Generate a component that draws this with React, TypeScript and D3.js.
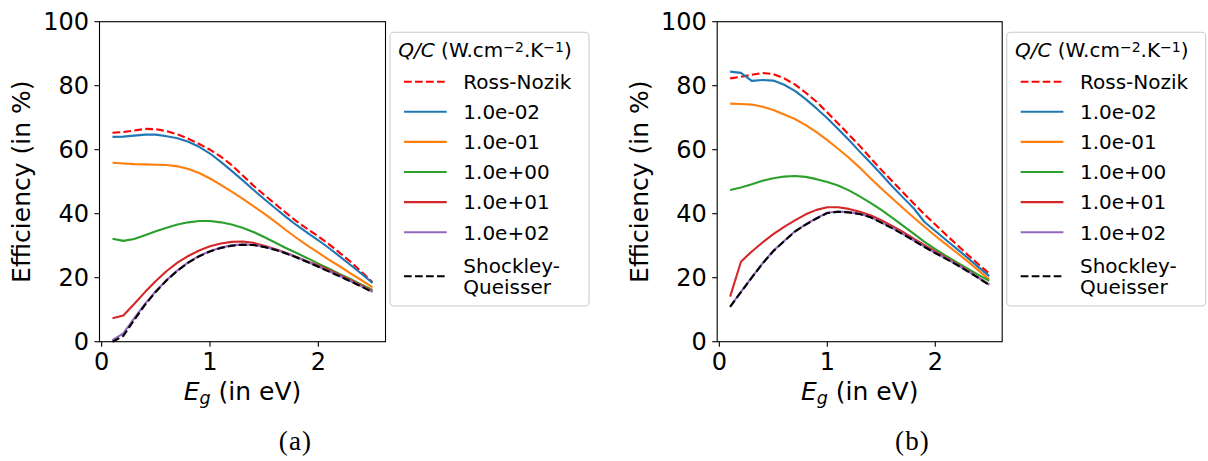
import React from 'react';
import * as d3 from 'd3';

// ---------- data ----------
const energyEv = [0.1, 0.2, 0.3, 0.4, 0.5, 0.6, 0.7, 0.8, 0.9, 1.0, 1.1, 1.2, 1.3, 1.4, 1.5, 1.6, 1.7, 1.8, 1.9, 2.0, 2.1, 2.2, 2.3, 2.4, 2.5];
const yTicks = [0, 20, 40, 60, 80, 100];
const xTicks = [0, 1, 2];
const seriesLabels = ['Ross-Nozik', '1.0e-02', '1.0e-01', '1.0e+00', '1.0e+01', '1.0e+02', 'Shockley-Queisser'];
const panelCaptions = ['(a)', '(b)'];

// panel (a)
const aRossNozik = [65.3, 65.5, 66.0, 66.5, 66.4, 65.8, 64.8, 63.4, 61.8, 60.0, 57.8, 55.2, 52.0, 48.8, 45.9, 43.1, 40.3, 37.6, 35.2, 32.9, 30.4, 27.7, 24.9, 21.8, 18.6];
const aQc1em2 = [64.0, 64.1, 64.4, 64.7, 64.7, 64.2, 63.6, 62.5, 60.9, 58.8, 56.2, 53.4, 50.5, 47.5, 44.6, 41.8, 39.0, 36.4, 34.0, 31.7, 29.2, 26.6, 23.9, 21.2, 18.4];
const aQc1em1 = [55.9, 55.7, 55.5, 55.4, 55.3, 55.2, 54.8, 54.0, 52.7, 51.0, 49.0, 46.9, 44.7, 42.4, 40.0, 37.5, 34.9, 32.4, 30.0, 27.8, 25.6, 23.5, 21.3, 19.2, 17.0];
const aQc1e0 = [32.2, 31.5, 32.1, 33.3, 34.5, 35.6, 36.6, 37.3, 37.7, 37.7, 37.3, 36.6, 35.6, 34.3, 32.7, 31.0, 29.3, 27.7, 26.1, 24.4, 22.8, 21.1, 19.5, 17.8, 16.2];
const aQc1e1 = [7.3, 8.2, 11.8, 15.5, 19.0, 22.1, 24.7, 26.8, 28.5, 29.8, 30.7, 31.2, 31.3, 30.9, 30.0, 29.0, 27.8, 26.5, 25.1, 23.8, 22.4, 20.8, 19.2, 17.5, 15.8];
const aQc1e2 = [0.5, 2.6, 7.3, 11.8, 15.8, 19.3, 22.3, 24.8, 26.8, 28.3, 29.4, 30.1, 30.4, 30.3, 29.7, 28.8, 27.7, 26.4, 25.0, 23.5, 22.0, 20.5, 18.9, 17.3, 15.6];
const aShockley = [0.0, 1.8, 6.8, 11.5, 15.6, 19.2, 22.2, 24.7, 26.7, 28.2, 29.3, 30.0, 30.3, 30.2, 29.6, 28.7, 27.6, 26.3, 24.9, 23.4, 21.9, 20.4, 18.8, 17.2, 15.5];

// panel (b)
const bRossNozik = [82.3, 82.8, 83.4, 84.0, 83.6, 82.3, 80.4, 77.8, 75.0, 71.6, 68.2, 64.7, 61.2, 57.4, 53.7, 50.2, 46.7, 43.2, 39.8, 36.6, 33.4, 30.3, 27.2, 24.2, 21.3];
const bQc1em2 = [84.4, 84.0, 81.5, 81.8, 81.6, 80.3, 78.4, 75.8, 72.9, 69.8, 66.5, 63.0, 59.4, 55.9, 52.3, 48.6, 45.1, 41.7, 37.4, 34.6, 31.8, 29.0, 26.2, 23.3, 20.5];
const bQc1em1 = [74.4, 74.3, 74.1, 73.4, 72.4, 71.0, 69.6, 67.7, 65.5, 63.0, 60.3, 57.5, 54.4, 51.1, 47.9, 44.8, 41.8, 38.8, 35.9, 33.1, 30.4, 27.8, 25.1, 22.3, 19.4];
const bQc1e0 = [47.4, 48.2, 49.2, 50.3, 51.1, 51.6, 51.8, 51.5, 50.8, 49.9, 48.8, 47.3, 45.4, 43.4, 41.2, 38.8, 36.3, 33.8, 31.2, 28.9, 26.8, 24.8, 22.8, 20.9, 19.0];
const bQc1e1 = [14.1, 25.0, 28.2, 31.0, 33.6, 35.9, 37.9, 39.8, 41.2, 42.0, 42.0, 41.5, 40.6, 39.5, 38.0, 36.2, 34.3, 32.2, 30.2, 28.2, 26.3, 24.3, 22.2, 20.0, 17.8];
const bQc1e2 = [11.0, 15.6, 20.1, 24.5, 28.4, 31.5, 34.5, 36.7, 38.6, 40.3, 40.7, 40.5, 40.0, 39.0, 37.3, 35.6, 33.7, 31.7, 29.7, 27.8, 26.0, 24.1, 22.1, 20.0, 17.8];
const bShockley = [10.9, 15.5, 20.0, 24.4, 28.3, 31.4, 34.4, 36.6, 38.5, 40.2, 40.6, 40.4, 39.9, 38.9, 37.2, 35.5, 33.6, 31.6, 29.6, 27.7, 25.9, 24.0, 22.0, 19.9, 17.7];

// ---------- styles ----------
const seriesStyles = [
  { color: '#ff0000', dash: '7.7,3.3' },
  { color: '#1f77b4', dash: null },
  { color: '#ff7f0e', dash: null },
  { color: '#2ca02c', dash: null },
  { color: '#d62728', dash: null },
  { color: '#9467bd', dash: null },
  { color: '#000000', dash: '7.7,3.3' },
];

const FONT = 'DejaVu Sans';
const TOP = 21.7;
const BOTTOM = 341.7;

type PanelProps = { x0: number; width: number; series: number[][]; caption: string; captionX: number };

function Panel({ x0, width, series, caption, captionX }: PanelProps) {
  const xs = d3.scaleLinear().domain([-0.02, 2.62]).range([x0, x0 + width]);
  const ys = d3.scaleLinear().domain([0, 100]).range([BOTTOM, TOP]);
  const line = d3
    .line<number>()
    .x((_, i) => xs(energyEv[i]))
    .y((d) => ys(d));
  const legX = x0 + width + 4.5;
  const legW = 199;
  const rowY = (i: number) => 81.7 + i * 30.1;
  return (
    <g>
      {series.map((vals, k) => (
        <path
          key={k}
          d={line(vals) || ''}
          fill="none"
          stroke={seriesStyles[k].color}
          strokeWidth={2.1}
          strokeDasharray={seriesStyles[k].dash || undefined}
          strokeLinejoin="round"
        />
      ))}
      <rect x={x0} y={TOP} width={width} height={BOTTOM - TOP} fill="none" stroke="#000" strokeWidth={1.1} />
      {yTicks.map((t) => (
        <g key={'y' + t}>
          <line x1={x0 - 5} x2={x0} y1={ys(t)} y2={ys(t)} stroke="#000" strokeWidth={1.1} />
          <text x={x0 - 10.5} y={ys(t) + 8.7} textAnchor="end" fontSize={24} fontFamily={FONT} fill="#000">
            {t}
          </text>
        </g>
      ))}
      {xTicks.map((t) => (
        <g key={'x' + t}>
          <line x1={xs(t)} x2={xs(t)} y1={BOTTOM} y2={BOTTOM + 5} stroke="#000" strokeWidth={1.1} />
          <text x={xs(t)} y={369.5} textAnchor="middle" fontSize={24} fontFamily={FONT} fill="#000">
            {t}
          </text>
        </g>
      ))}
      <text
        transform={`translate(${x0 - 69.5},${(TOP + BOTTOM) / 2}) rotate(-90)`}
        textAnchor="middle"
        fontSize={25}
        fontFamily={FONT}
        fill="#000"
      >
        Efficiency (in %)
      </text>
      <text x={x0 + width / 2} y={400} textAnchor="middle" fontSize={25} fontFamily={FONT} fill="#000" style={{ whiteSpace: 'pre' }}>
        <tspan fontStyle="italic">E</tspan>
        <tspan fontStyle="italic" fontSize={17.5} dy={4}>g</tspan>
        <tspan dy={-4}> (in eV)</tspan>
      </text>
      <rect x={legX} y={32.3} width={legW} height={273.7} rx={4} fill="#fff" fillOpacity={0.8} stroke="#cccccc" strokeWidth={1.1} />
      <text x={legX + 8.3} y={57.3} fontSize={20} fontFamily={FONT} fill="#000" style={{ whiteSpace: 'pre' }}>
        <tspan fontStyle="italic">Q/C</tspan>
        <tspan> (W.cm</tspan>
        <tspan fontSize={14} dy={-5.5}>−2</tspan>
        <tspan dy={5.5}>.K</tspan>
        <tspan fontSize={14} dy={-5.5}>−1</tspan>
        <tspan dy={5.5}>)</tspan>
      </text>
      {seriesLabels.map((lab, k) => {
        const isLast = k === seriesLabels.length - 1;
        const cy = isLast ? rowY(k) + 14 : rowY(k);
        return (
          <g key={'l' + k}>
            <line
              x1={legX + 14}
              x2={legX + 56.7}
              y1={cy}
              y2={cy}
              stroke={seriesStyles[k].color}
              strokeWidth={2.1}
              strokeDasharray={seriesStyles[k].dash || undefined}
            />
            {isLast ? (
              <text x={legX + 73.3} fontSize={20} fontFamily={FONT} fill="#000">
                <tspan x={legX + 73.3} y={rowY(k) + 3 + 7.3}>Shockley-</tspan>
                <tspan x={legX + 73.3} y={rowY(k) + 24.7 + 7.3}>Queisser</tspan>
              </text>
            ) : (
              <text x={legX + 73.3} y={cy + 7.3} fontSize={20} fontFamily={FONT} fill="#000">
                {lab}
              </text>
            )}
          </g>
        );
      })}
      <text x={captionX} y={450} textAnchor="middle" fontSize={27} fontFamily="Liberation Serif" letterSpacing={1.2} fill="#000">
        {caption}
      </text>
    </g>
  );
}

export default function App() {
  const seriesA = [aRossNozik, aQc1em2, aQc1em1, aQc1e0, aQc1e1, aQc1e2, aShockley];
  const seriesB = [bRossNozik, bQc1em2, bQc1em1, bQc1e0, bQc1e1, bQc1e2, bShockley];
  return (
    <svg
      width={1208}
      height={461}
      style={{ position: 'absolute', left: 0, top: 0, display: 'block', background: '#fff' }}
    >
      <rect x={0} y={0} width={1208} height={461} fill="#fff" />
      <Panel x0={99.5} width={286} series={seriesA} caption={panelCaptions[0]} captionX={295.5} />
      <Panel x0={717.2} width={285} series={seriesB} caption={panelCaptions[1]} captionX={912.5} />
    </svg>
  );
}
